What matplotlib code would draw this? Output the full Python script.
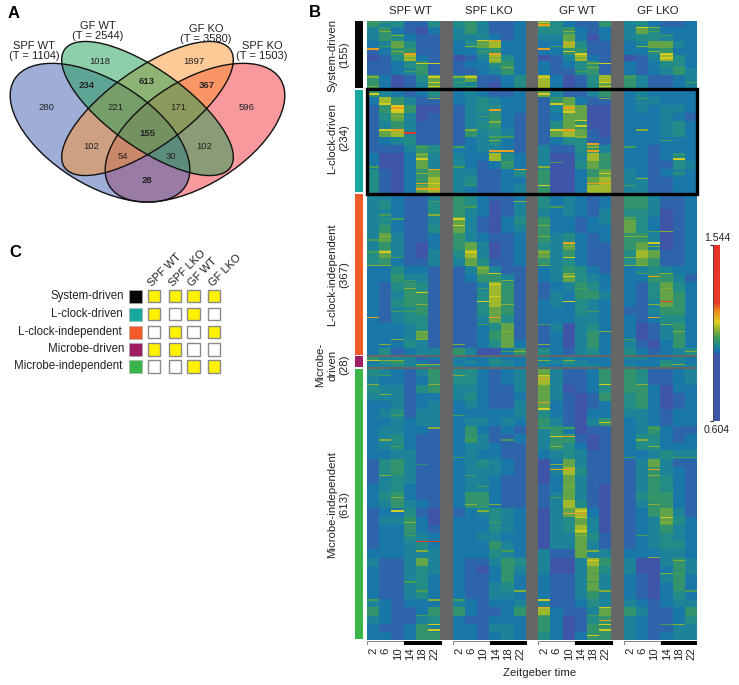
import numpy as np
import matplotlib
matplotlib.use("Agg")
import matplotlib.pyplot as plt
from matplotlib.colors import LinearSegmentedColormap
from matplotlib.patches import Ellipse, Rectangle

plt.rcParams['font.family'] = ['Liberation Sans', 'DejaVu Sans']

W, H = 739, 685

# ---------- data ----------
conditions = ["SPF WT", "SPF LKO", "GF WT", "GF LKO"]
zt = [2, 6, 10, 14, 18, 22]
clusters = ["System-driven", "L-clock-driven", "L-clock-independent", "Microbe-driven", "Microbe-independent"]
cluster_counts = [155, 234, 367, 28, 613]
cluster_colors = ["#050505", "#16a89c", "#f15a29", "#9e1f63", "#39b54a"]
cbar_min, cbar_max = 0.604, 1.544

# read levels per band (digit = colour level), four conditions of six time points
SYSTEM_ROWS = [
 "534114 453112 642115 342112", "352102 353112 445212 364222", "354211 333212 336202 344322",
 "236411 246722 227411 236632", "125511 224522 225511 224522", "014721 013742 013721 013742",
 "112451 122452 212451 212442", "112351 112352 211451 212353", "520146 461124 720147 531123",
 "520136 431024 720146 531123"]
LCLOCK_ROWS = [
 "532124 232112 631135 232222", "275311 234322 156211 233222", "158500 134422 137600 232332",
 "146301 133521 126600 222321", "135311 134521 146500 222342", "167311 153431 167610 222342",
 "123411 123421 124411 222222", "111354 223321 311453 221222", "200263 322742 300375 221242",
 "200263 321252 300465 221143", "410256 331124 500256 321232", "410257 341122 500267 331122",
 "410267 321123 500277 331122"]
LINDEP_ROWS = [
 "332113 542112 423212 553112", "342114 542013 423212 553112", "332114 532013 323213 443012",
 "342113 631024 522123 642012", "352114 631023 522122 642012", "363112 532112 534212 553012",
 "353102 563012 436211 563012", "463103 473012 635211 476112", "452113 364112 534211 465112",
 "224221 136311 235421 234322", "225331 125531 236432 225531", "214541 113751 123542 214642",
 "213551 114751 132553 214652", "214551 114751 232432 213652", "213451 114651 222432 113552",
 "213441 113641 222332 212442", "222341 112461 130342 201352", "222361 112561 120352 201352",
 "222431 112462 120352 310252", "241233 530025 421342 421234"]
MICROBE_ROWS = ["533312 322322 323222 332232", "245321 232432 334322 222432", "334354 322332 323332 322533"]
MINDEP_ROWS = [
 "432135 442123 631125 541123", "322125 442123 731125 541123", "433145 332113 630124 552022",
 "333122 342112 631015 452012", "223123 232113 621012 452012", "234133 222223 421022 332122",
 "223233 233232 531035 232122", "233221 252121 352011 235211", "234211 253112 355101 244212",
 "234211 233211 354201 244222", "223311 232211 234311 223433", "145311 234321 026311 136311",
 "145311 233321 037411 135321", "134311 233211 026311 135421", "234211 233211 126310 135421",
 "245211 255211 136310 145521", "235321 255211 137410 135521", "122410 123432 036720 125631",
 "133520 222432 034630 123642", "122521 222432 034730 123532", "122432 223322 033641 123432",
 "122342 222532 033631 123442", "222333 222432 311633 222332", "311363 211354 300375 300353",
 "211343 210253 300364 300253", "211342 211252 211363 210352", "211342 211342 211363 210252",
 "211342 211332 211353 210242", "321222 321223 311243 321233", "521125 521125 721136 531125",
 "321134 211222 520145 321124", "211253 221332 520155 321133", "221255 221232 420255 321233"]

# (gene row, time column 0-23, level) for single bright genes
STREAKS = [(10,12,8),(16,19,7),(16,20,6),(44,8,7),(44,9,8),(64,0,8),(64,12,8),(51,14,8),(75,3,8),(75,9,8),
 (75,15,7),(75,21,7),(96,4,7),(96,5,7),(96,16,6),(96,17,7),(93,9,6),(127,5,7),(127,7,7),(197,2,8),(206,2,7),
 (197,14,8),(206,14,7),(201,9,8),(246,1,7),(246,2,8),(246,13,7),(246,14,8),(237,15,7),(246,7,6),(246,19,6),
 (253,3,9),(294,9,8),(294,10,8),(294,16,8),(278,16,8),(312,4,7),(312,22,7),(336,11,8),(336,5,8),(367,4,8),
 (367,5,7),(367,16,8),(367,17,8),(379,4,8),(379,5,8),(521,1,7),(521,7,7),(447,6,7),(462,6,7),(501,14,8),
 (577,14,7),(534,14,7),(501,20,7),(577,20,8),(595,9,7),(622,9,7),(613,4,7),(669,9,8),(669,0,8),(633,8,7),
 (633,14,7),(633,21,9),(669,20,8),(806,12,8),(860,12,8),(937,13,7),(937,14,8),(1011,13,8),(1011,14,8),
 (1011,20,8),(1110,14,8),(1110,15,8),(1173,4,9),(1173,5,9),(1119,15,7),(1119,21,7),(1150,15,7),(1217,16,7),
 (1217,22,6),(1323,12,8),(1323,17,7),(1352,17,8),(1373,5,7),(1373,17,7),(1385,16,7)]

# fainter thin lines: gene row -> {time column: level}
THIN_LINES = {
 4:{0:5,1:5,12:7}, 24:{14:6,20:5,1:6}, 33:{2:6,8:4,21:5}, 58:{1:5,7:6,19:6,13:5}, 70:{2:6,8:5,14:7,20:6},
 84:{3:6,15:6,9:6,21:7}, 106:{4:5,10:6,16:6,22:5}, 115:{3:5,15:5}, 127:{0:6,12:7,18:5,6:6},
 140:{5:7,17:7,6:5,23:5}, 148:{0:6,17:7,5:7,7:5}, 165:{0:7,12:7}, 175:{5:6,17:6,19:5}, 188:{1:7,13:7},
 216:{2:6,8:5}, 225:{15:7}, 228:{9:6}, 262:{9:5,15:6,10:5}, 270:{9:6,21:5}, 285:{16:6,4:5,6:5,18:5},
 301:{22:5,4:6}, 320:{13:5,10:5}, 330:{12:6,0:5,6:5}, 345:{17:7,4:6,22:5}, 355:{19:6}, 372:{7:5,18:5,12:7},
 408:{11:6,5:5}, 420:{7:5,13:5}, 438:{5:6,1:5}, 447:{2:5,18:5}, 462:{12:6}, 475:{20:5,21:6},
 487:{1:6,12:6,18:6,19:6}, 494:{0:5}, 509:{14:6,20:6}, 521:{0:5,12:6}, 534:{2:5,18:6},
 552:{0:6,1:6,18:6,19:6,12:6,7:6}, 557:{8:6}, 570:{14:6,21:6,9:7,19:5}, 586:{10:6,3:5}, 604:{3:6,8:5,15:5,21:6},
 640:{4:6,10:6,20:6}, 655:{3:5,16:5,2:5}, 685:{12:5,8:5,21:6}, 700:{4:6,10:6,17:6,22:6}, 718:{4:6,2:6,18:5},
 730:{1:6,6:6,12:6}, 745:{10:5,11:6,23:6}, 765:{0:7,1:6,2:6,12:6,14:6}, 775:{4:6,5:6,22:6},
 800:{1:5,12:7,6:6}, 820:{0:6,5:6,17:7,19:6}, 843:{1:6}, 875:{12:7}, 890:{2:5,6:5}, 905:{17:7},
 918:{5:6,12:5,20:5,14:5}, 945:{1:6,7:5,10:5,19:6}, 960:{2:5,13:6,20:6}, 985:{6:5,18:5,22:5,23:5}, 1000:{13:6,4:4},
 1025:{1:6,7:5,20:6}, 1050:{14:6,8:5}, 1075:{2:6,20:5,13:5}, 1090:{7:6,9:6,20:6}, 1105:{2:7,8:6,15:7},
 1130:{3:6,21:6,9:5}, 1160:{19:5,3:5,15:6}, 1195:{4:6,10:5,16:6}, 1210:{20:6}, 1245:{16:5,21:6,22:5},
 1265:{16:5,3:5}, 1285:{11:6,23:5,4:5,17:6}, 1305:{0:5,6:5,12:7,5:6}, 1340:{12:5,4:5,16:5},
 1360:{5:7,17:7,21:5,22:6}}

# value of each colour level for broad bands and for single bright genes
LEVEL_VALUES = [0.87, 0.966, 0.985, 1.0, 1.015, 1.032, 1.065, 1.097, 1.14, 1.235]
STREAK_VALUES = [0.87, 0.966, 0.99, 1.008, 1.022, 1.05, 1.085, 1.125, 1.17, 1.235]

# Venn diagram
venn_counts = ["280", "1018", "234", "613", "1897", "367", "596", "221", "171", "155", "102", "102", "54", "30", "28"]
venn_bold = ["234", "613", "367", "155", "28"]
venn_sets = ["SPF WT\n(T = 1104)", "GF WT\n(T = 2544)", "GF KO\n(T = 3580)", "SPF KO\n(T = 1503)"]

# Panel C membership
membership = [[1, 1, 1, 1], [1, 0, 1, 0], [0, 1, 0, 1], [1, 1, 0, 0], [0, 0, 1, 1]]

# ---------- helpers ----------
fig = plt.figure(figsize=(W / 100, H / 100), dpi=100, facecolor="white")

def px_axes(l, t, r, b, **kw):
    return fig.add_axes([l / W, 1 - b / H, (r - l) / W, (b - t) / H], **kw)

cmap = LinearSegmentedColormap.from_list("expr", [
    (0.00, "#3f55a8"), (0.37, "#3f55a8"), (0.40, "#1a76ad"), (0.43, "#1f8a8e"), (0.47, "#3f9a58"),
    (0.52, "#96b52e"), (0.56, "#e0d020"), (0.62, "#f08c20"), (0.67, "#e83a28"), (1.00, "#e83028")])
cmap.set_bad("#666666")

# ---------- heat matrix ----------
n_rows = sum(cluster_counts)
levels = np.zeros((n_rows, 24), dtype=int)
start = 0
for rows, count in zip([SYSTEM_ROWS, LCLOCK_ROWS, LINDEP_ROWS, MICROBE_ROWS, MINDEP_ROWS], cluster_counts):
    band = np.array([[int(ch) for ch in r.replace(" ", "")] for r in rows])
    idx = np.minimum((np.arange(count) * len(rows)) // count, len(rows) - 1)
    levels[start:start + count] = band[idx]
    start += count
values = np.array(LEVEL_VALUES)[levels]
for row, line in THIN_LINES.items():
    for col, lev in line.items():
        values[row:row + 3, col] = STREAK_VALUES[lev]
for row, col, lev in STREAKS:
    values[row:row + 3, col] = STREAK_VALUES[lev]

matrix = np.full((n_rows, 27), np.nan)
for p in range(4):
    matrix[:, p * 7:p * 7 + 6] = values[:, p * 6:p * 6 + 6]
edges = np.cumsum(cluster_counts)
matrix[edges[2] - 2:edges[2] + 3, :] = np.nan
matrix[edges[3] - 2:edges[3] + 3, :] = np.nan

T, B = 20.5, 640.5
ax = px_axes(367.3, T, 697.3, B)
ax.imshow(matrix, aspect="auto", cmap=cmap, vmin=cbar_min, vmax=cbar_max, interpolation="nearest",
          extent=(-0.5, 26.5, n_rows, 0))
ax.axis("off")
ax.add_patch(Rectangle((-0.5, edges[0] - 1), 27, cluster_counts[1] + 3, fill=False, ec="black", lw=2.4,
                       clip_on=False, zorder=5))

# cluster bars
axb = px_axes(355, T, 363, B)
axb.set_xlim(0, 1)
axb.set_ylim(n_rows, 0)
axb.axis("off")
bottoms = np.concatenate([[0], edges[:-1]])
axb.bar([0.5] * 5, np.array(cluster_counts) - 4, bottom=bottoms + 1, width=1, color=cluster_colors)

# light/dark bars and time ticks
axt = px_axes(367.3, 640.8, 697.3, 645.2)
axt.set_xlim(-0.5, 26.5)
axt.set_ylim(1, 0)
axt.axis("off")
for p in range(4):
    axt.add_patch(Rectangle((p * 7 - 0.5, 0), 3, 1, fc="white", ec="#888888", lw=0.8))
    axt.add_patch(Rectangle((p * 7 + 2.5, 0), 3, 1, fc="black", ec="black", lw=0.8))
    for i, z in enumerate(zt):
        axt.text(p * 7 + i, 1.55, str(z), rotation=90, ha="center", va="top", fontsize=8.2, color="#222222")

# colorbar
axc = px_axes(713.3, 245, 720, 421)
grad = np.linspace(cbar_max, cbar_min, 256)[:, None]
axc.imshow(grad, aspect="auto", cmap=cmap, vmin=cbar_min, vmax=cbar_max, extent=(0, 1, cbar_min, cbar_max))
axc.set_xticks([])
axc.set_yticks([cbar_min, cbar_max])
axc.set_yticklabels([])
axc.tick_params(axis="y", length=2, width=0.8, pad=1, color="#222222")
for s in axc.spines.values():
    s.set_visible(False)
axc.spines["left"].set_visible(True)
axc.spines["left"].set_linewidth(0.6)
axc.spines["left"].set_color("#444444")

# ---------- overlay in pixel space ----------
ov = px_axes(0, 0, W, H, zorder=10)
ov.set_xlim(0, W)
ov.set_ylim(H, 0)
ov.axis("off")
ov.patch.set_alpha(0)

TXT = "#222222"
for s, x, y in [("A", 14, 13), ("B", 315, 12), ("C", 15, 252)]:
    ov.text(x, y, s, fontsize=12, fontweight="bold", ha="center", va="center", color="black")

for name, x in zip(conditions, [410, 489, 577, 658]):
    ov.text(x, 11, name, fontsize=8.2, ha="center", va="center", color=TXT)
ov.text(540, 673.5, "Zeitgeber time", fontsize=8.2, ha="center", va="center", color=TXT)
ov.text(717, 238, f"{cbar_max:.3f}", fontsize=7.6, ha="center", va="center", color=TXT)
ov.text(717, 430, f"{cbar_min:.3f}", fontsize=7.6, ha="center", va="center", color=TXT)

for label, x, y in [(f"{clusters[0]}\n({cluster_counts[0]})", 338, 55),
                    (f"{clusters[1]}\n({cluster_counts[1]})", 338, 138),
                    (f"{clusters[2]}\n({cluster_counts[2]})", 338, 275),
                    (f"Microbe-\ndriven\n({cluster_counts[3]})", 332, 365),
                    (f"{clusters[4]}\n({cluster_counts[4]})", 338, 505)]:
    ov.text(x, y, label, rotation=90, fontsize=8.2, ha="center", va="center", color=TXT, linespacing=1.25,
            multialignment="center")

# Venn
venn_shapes = [((195.0, 132.7), 201.6, 104.4, -32, "#f0343c", 0.5),
               ((100.0, 132.7), 201.6, 104.4, 32, "#3e5fae", 0.5),
               ((147.5, 108.5), 203.4, 78.0, -35.5, "#fd9430", 0.5),
               ((147.5, 108.5), 203.4, 78.0, 35.5, "#1f9e55", 0.5)]
for c, w, h, ang, col, a in venn_shapes:
    ov.add_patch(Ellipse(c, w, h, angle=ang, fc=col, alpha=a, ec="none"))
for c, w, h, ang, col, a in venn_shapes:
    ov.add_patch(Ellipse(c, w, h, angle=ang, fill=False, ec="#111111", lw=1.0))
venn_pos = [(46, 107), (100, 61), (87, 85), (147, 81), (194, 61), (207, 85), (247, 107), (115, 107),
            (178, 107), (147, 133), (91, 146), (204, 146), (123, 156), (171, 156), (147, 180)]
for s, (x, y) in zip(venn_counts, venn_pos):
    ov.text(x, y, s, fontsize=6.8, ha="center", va="center", color=TXT,
            fontweight="bold" if s in venn_bold else "normal")
for s, (x, y) in zip(venn_sets, [(34, 51), (98, 31), (206, 34), (262, 51)]):
    ov.text(x, y, s, fontsize=8, ha="center", va="center", color=TXT, linespacing=1.05)

# Panel C
row_y = [296, 314, 332, 349.3, 366.7]
col_x = [154, 175, 193.7, 214]
label_right = [124, 123, 122, 124, 122]
for i, name in enumerate(clusters):
    ov.text(label_right[i], row_y[i] - 0.5, name, fontsize=8.3, ha="right", va="center", color=TXT)
    ov.add_patch(Rectangle((129, row_y[i] - 6.5), 13, 13, fc=cluster_colors[i], ec="#aaaaaa", lw=0.4))
    for j, x in enumerate(col_x):
        ov.add_patch(Rectangle((x - 6.3, row_y[i] - 6.3), 12.6, 12.6, fc="#fff200" if membership[i][j] else "white",
                               ec="#8a8a8a", lw=1.0))
for name, x in zip(conditions, [150, 171, 190, 211]):
    ov.text(x, 285, name, rotation=45, rotation_mode="anchor", fontsize=8, ha="left", va="center", color=TXT)

fig.savefig("out.png", dpi=100, facecolor="white")
